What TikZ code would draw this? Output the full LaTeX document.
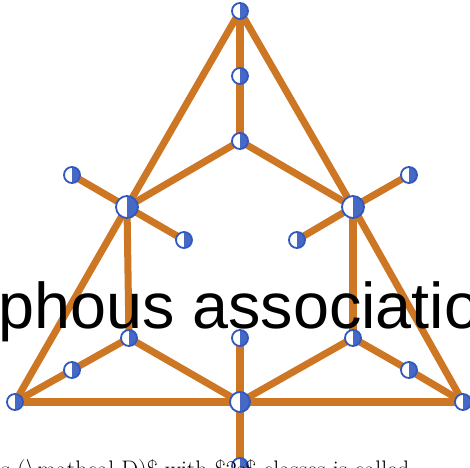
\documentclass[tikz,border=0pt]{standalone}
\usepackage{fontspec}
\newfontfamily\headfont{Liberation Sans}
\usetikzlibrary{backgrounds}
\definecolor{BondOrange}{RGB}{205, 118, 36}
\definecolor{AtomBlue}{RGB}{48, 88, 190}
\tikzset{
  atom/.style={circle, draw=AtomBlue, line width=1.3pt, fill=white,
               inner sep=0pt, minimum size=#1,
               path picture={\fill[AtomBlue!90] (path picture bounding box.north)
                             rectangle (path picture bounding box.south east);}},
  atom/.default=0.4cm,
  bond/.style={draw=BondOrange, line width=#1},
  bond/.default=5pt,
  caption/.style={inner sep=0pt, anchor=base west},
}
\begin{document}
\begin{tikzpicture}[x=0.025cm, y=-0.025cm]
      \useasboundingbox (0,0) rectangle (470,468);
      \node[atom] (top) at (240,11) {};
      \node[atom] (stem) at (240,76) {};
      \node[atom] (apex) at (240,141) {};
      \node[atom=0.55cm] (left) at (127,207) {};
      \node[atom=0.55cm] (right) at (353,207) {};
      \node[atom] (lout) at (72,175) {};
      \node[atom] (lin) at (184,240) {};
      \node[atom] (rout) at (409,175) {};
      \node[atom] (rin) at (297,240) {};
      \node[atom] (lowL) at (129,338) {};
      \node[atom] (lowC) at (240,338) {};
      \node[atom] (lowR) at (353,338) {};
      \node[atom] (midL) at (72,370) {};
      \node[atom] (midR) at (409,370) {};
      \node[atom] (cornL) at (15,402) {};
      \node[atom=0.5cm] (base) at (240,402) {};
      \node[atom] (cornR) at (463,402) {};
      \node[atom] (foot) at (240,466) {};

      \begin{scope}[on background layer]
        \draw[bond] (top.center) -- (left.center) -- (cornL.center);
        \draw[bond] (top.center) -- (right.center) -- (cornR.center);
        \draw[bond=5.6pt] (cornL.center) -- (base.center) -- (cornR.center);
        \draw[bond] (top.center) -- (stem.center) -- (apex.center);
        \draw[bond] (left.center) -- (apex.center) -- (right.center);
        \draw[bond] (lout.center) -- (left.center) -- (lin.center);
        \draw[bond] (rout.center) -- (right.center) -- (rin.center);
        \draw[bond] (left.center) -- (lowL.center);
        \draw[bond] (right.center) -- (lowR.center);
        \draw[bond] (cornL.center) -- (midL.center) -- (lowL.center) -- (base.center);
        \draw[bond] (cornR.center) -- (midR.center) -- (lowR.center) -- (base.center);
        \draw[bond] (lowC.center) -- (base.center) -- (foot.center);
      \end{scope}

      \node[caption, font=\headfont\fontsize{46}{55}\selectfont] (term) at (-2,328)
           {phous association};
      \node[caption, font=\fontsize{17}{20}\selectfont] (remark) at (1,477)
           {s (\textbackslash mathcal D)\$ with \$2s\$ classes is called};
    \end{tikzpicture}
\end{document}
